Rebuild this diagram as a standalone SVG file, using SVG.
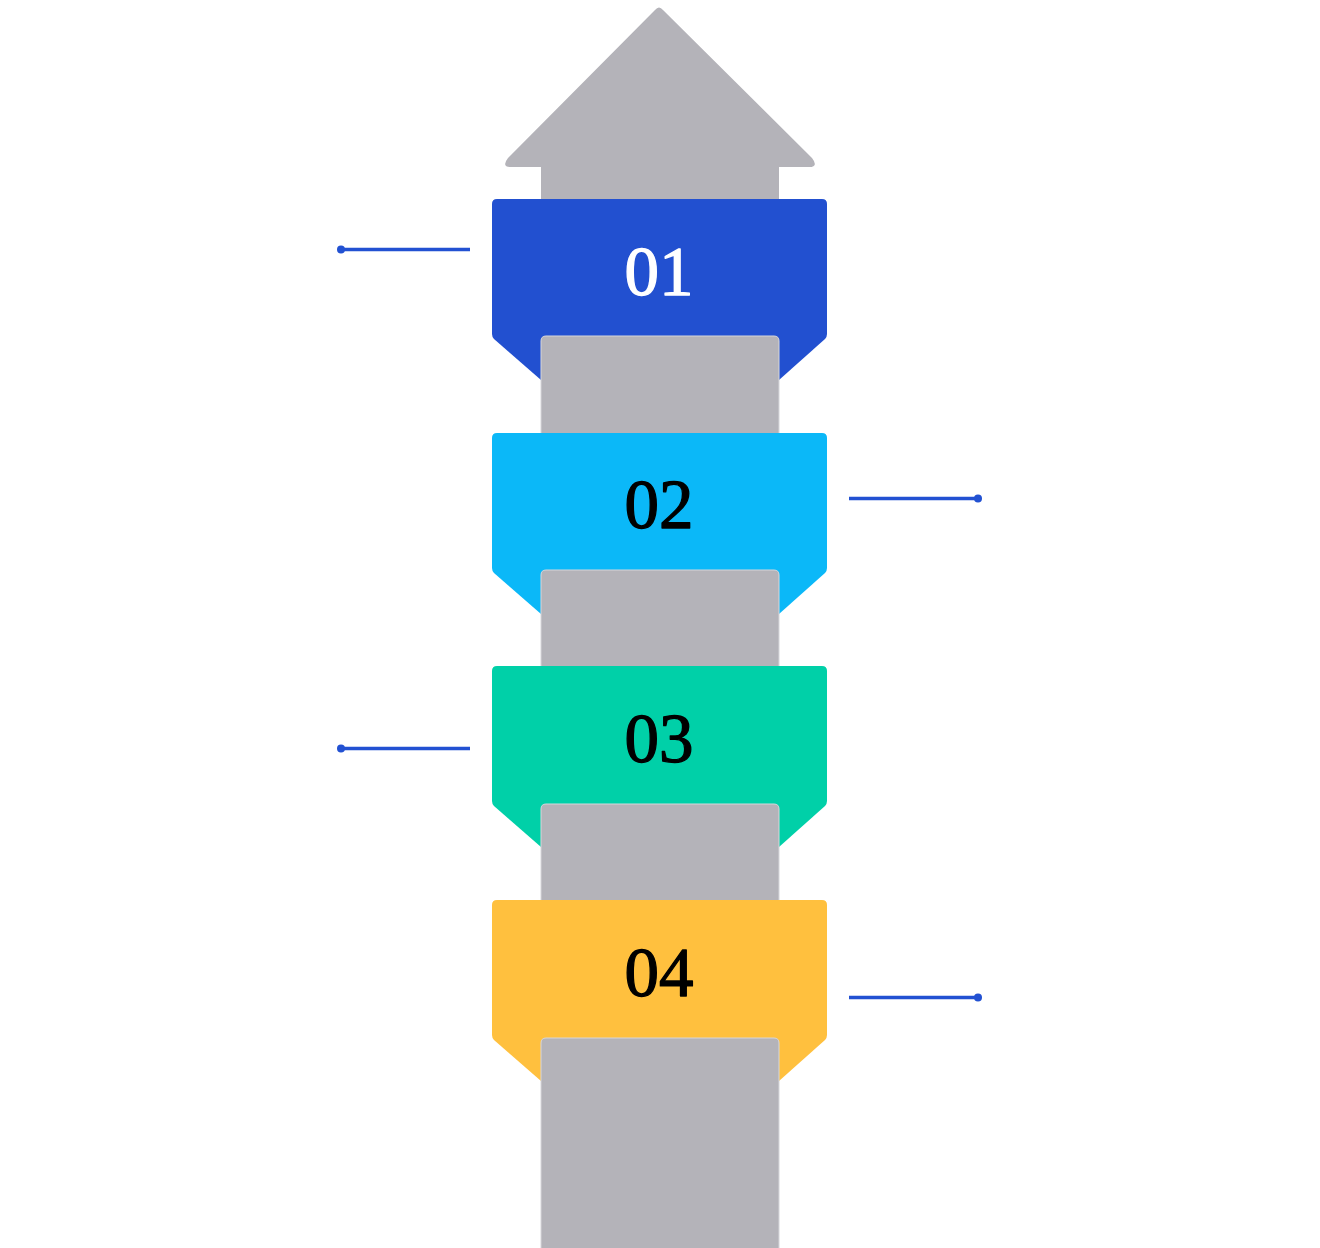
<svg xmlns="http://www.w3.org/2000/svg" width="1320" height="1248" viewBox="0 0 1320 1248">
<style>
.gray{fill:#b4b3b9}
.blk{fill:#b4b3b9;stroke:#d6d6da;stroke-width:1}
.num{font-family:"Liberation Serif",serif;font-size:69px;font-weight:normal;text-anchor:middle;stroke-width:1.3;stroke-linejoin:round}
.ln{stroke:#2251d2;stroke-width:3.5;fill:none}
.dot{fill:#2251d2}
</style>
<defs>
<path id="tab" d="M492,5 Q492,0 497,0 H822 Q827,0 827,5 V135 Q827,138 825,140 L779,181 H541 L494,140 Q492,138 492,135 Z"/>
</defs>
<g id="arrow">
<path class="gray" d="M655,10 Q659,5 663,10 L812,158 Q819,167 809,167 H779 V205 H541 V167 H511 Q501,167 508,158 Z"/>
</g>
<g id="node1">
<use href="#tab" y="199" fill="#2250d0"/>
<text class="num" x="659" y="295" fill="#ffffff" stroke="#ffffff">01</text>
</g>
<g id="block1"><path class="blk" d="M541,441 V341 Q541,336 546,336 H774 Q779,336 779,341 V441 Z"/></g>
<g id="node2">
<use href="#tab" y="433" fill="#0bb8f8"/>
<text class="num" x="659" y="528" fill="#000000" stroke="#000000">02</text>
</g>
<g id="block2"><path class="blk" d="M541,675 V575 Q541,570 546,570 H774 Q779,570 779,575 V675 Z"/></g>
<g id="node3">
<use href="#tab" y="666" fill="#00d0a8"/>
<text class="num" x="659" y="762" fill="#000000" stroke="#000000">03</text>
</g>
<g id="block3"><path class="blk" d="M541,908 V809 Q541,804 546,804 H774 Q779,804 779,809 V908 Z"/></g>
<g id="node4">
<use href="#tab" y="900" fill="#ffc03e"/>
<text class="num" x="659" y="996" fill="#000000" stroke="#000000">04</text>
</g>
<g id="block4"><path class="blk" d="M541,1250 V1043 Q541,1038 546,1038 H774 Q779,1038 779,1043 V1250 Z"/></g>
<g id="connectors">
<line class="ln" x1="341" y1="249.5" x2="470" y2="249.5"/><circle class="dot" cx="341" cy="249.5" r="4"/>
<line class="ln" x1="849" y1="498.5" x2="978" y2="498.5"/><circle class="dot" cx="978" cy="498.5" r="4"/>
<line class="ln" x1="341" y1="748.5" x2="470" y2="748.5"/><circle class="dot" cx="341" cy="748.5" r="4"/>
<line class="ln" x1="849" y1="997.5" x2="978" y2="997.5"/><circle class="dot" cx="978" cy="997.5" r="4"/>
</g>
</svg>
